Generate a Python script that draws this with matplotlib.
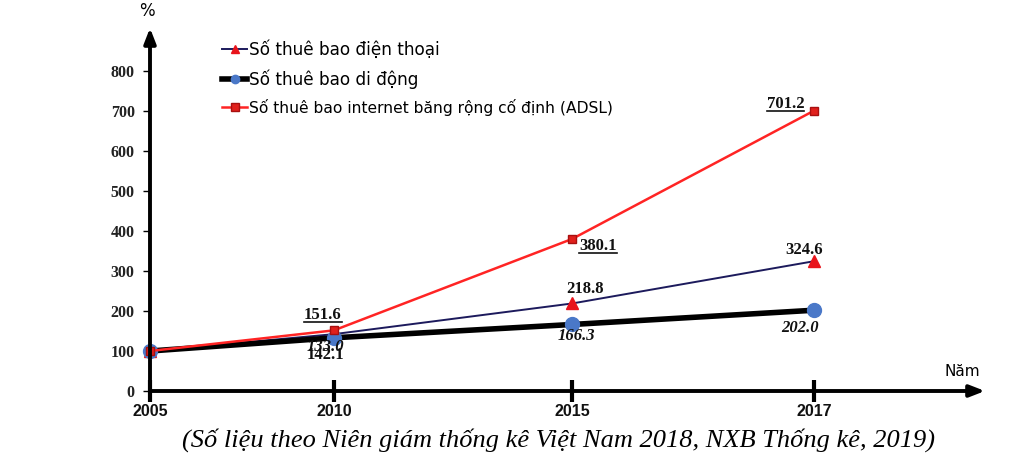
import matplotlib
matplotlib.use("Agg")
import matplotlib.pyplot as plt
from matplotlib.lines import Line2D
from matplotlib.transforms import IdentityTransform

# data
years = ["2005", "2010", "2015", "2017"]
x_pos = [0, 1.0, 2.295, 3.612]          # hand drawn, uneven spacing
phone = [100, 142.1, 218.8, 324.6]
mobile = [100, 133.0, 166.3, 202.0]
adsl = [100, 151.6, 380.1, 701.2]
y_ticks = [0, 100, 200, 300, 400, 500, 600, 700, 800]

W, H = 1012, 462
fig = plt.figure(figsize=(W / 100, H / 100), dpi=100)
ax = fig.add_axes([150 / W, (H - 391) / H, (985 - 150) / W, (391 - 28) / H])
ax.set_xlim(0, 4.54)
ax.set_ylim(0, 907.5)
for s in ax.spines.values():
    s.set_visible(False)

serif = ["Liberation Serif", "DejaVu Serif"]
narrow = ["Liberation Sans Narrow", "DejaVu Sans Condensed",
          "Liberation Sans", "DejaVu Sans"]

ax.plot(x_pos, phone, color="#1c1a5c", lw=1.4, marker="^", ms=8,
        mfc="#e8141c", mec="#e8141c", zorder=3, clip_on=False,
        label="Số thuê bao điện thoại")
ax.plot(x_pos, mobile, color="black", lw=4, marker="o", ms=10,
        mfc="#4a78c8", mec="#4a78c8", zorder=4, clip_on=False,
        label="Số thuê bao di động")
ax.plot(x_pos, adsl, color="#ff2424", lw=1.8, marker="s", ms=6,
        mfc="#e0201c", mec="#a81010", zorder=5, clip_on=False,
        label="Số thuê bao internet băng rộng cố định (ADSL)")

# axes with arrows
arrow = dict(arrowstyle="-|>,head_length=0.9,head_width=0.35", lw=2.8,
             color="black", shrinkA=0, shrinkB=0)
ax.annotate("", xy=(0, 1), xytext=(0, 0), xycoords="axes fraction",
            arrowprops=arrow, annotation_clip=False, zorder=6)
ax.annotate("", xy=(1, 0), xytext=(0, 0), xycoords="axes fraction",
            arrowprops=arrow, annotation_clip=False, zorder=6)

ax.set_yticks(y_ticks)
ax.set_yticklabels([str(v) for v in y_ticks], family=serif,
                   fontweight="bold", fontsize=11.5, color="#222222")
ax.tick_params(axis="y", direction="out", length=5, width=1, pad=6)
ax.set_xticks(x_pos)
ax.set_xticklabels(years, family=narrow, fontweight="bold", fontsize=11.5,
                   color="#111111")
ax.tick_params(axis="x", direction="inout", length=16, width=3, pad=1)

# data labels: (text, x, y, dx, dy, style, underline)
labels = [
    ("151.6", x_pos[1], adsl[1], -11, 15, "normal", True),
    ("133.0", x_pos[1], mobile[1], -8, -9, "italic", False),
    ("142.1", x_pos[1], mobile[1], -8, -17, "normal", False),
    ("380.1", x_pos[2], adsl[2], 7, -7, "normal", True),
    ("218.8", x_pos[2], phone[2], 13, 14, "normal", False),
    ("166.3", x_pos[2], mobile[2], 4, -12, "italic", False),
    ("324.6", x_pos[3], phone[3], -10, 11, "normal", False),
    ("202.0", x_pos[3], mobile[3], -14, -18, "italic", False),
    ("701.2", x_pos[3], adsl[3], -29, 7, "normal", True),
]
under = []
for txt, x, y, dx, dy, st, ul in labels:
    ha = "left" if txt == "380.1" else "center"
    t = ax.annotate(txt, (x, y), xytext=(dx, dy), textcoords="offset pixels",
                    ha=ha, va="center", family=serif, fontweight="bold",
                    style=st, fontsize=12, color="#111111", zorder=7)
    if ul:
        under.append(t)

leg = ax.legend(loc="upper left", bbox_to_anchor=(222 / W, 1 - 40 / H),
                bbox_transform=fig.transFigure, frameon=False,
                prop={"family": "DejaVu Sans", "size": 12.2},
                handlelength=1.5, handletextpad=0.1, labelspacing=0.62,
                borderaxespad=0, borderpad=0)
for h in leg.legend_handles:
    h.set_markersize(6)
leg.get_texts()[2].set_fontsize(11.2)

fig.text(147 / W, 1 - 11 / H, "%", ha="center", va="center", fontsize=12,
         family="DejaVu Sans")
fig.text(962 / W, 1 - 371 / H, "Năm", ha="center", va="center",
         fontsize=11, family="DejaVu Sans")
fig.text(559 / W, 1 - 440 / H,
         "(Số liệu theo Niên giám thống kê Việt Nam 2018, NXB Thống kê, 2019)",
         ha="center", va="center", family=serif, style="italic", fontsize=19)

fig.canvas.draw()
r = fig.canvas.get_renderer()
for t in under:
    bb = t.get_window_extent(r)
    fig.add_artist(Line2D([bb.x0, bb.x1], [bb.y0 + 1, bb.y0 + 1],
                          transform=IdentityTransform(), color="#111111",
                          lw=1.2))

fig.savefig("out.png", dpi=100)
